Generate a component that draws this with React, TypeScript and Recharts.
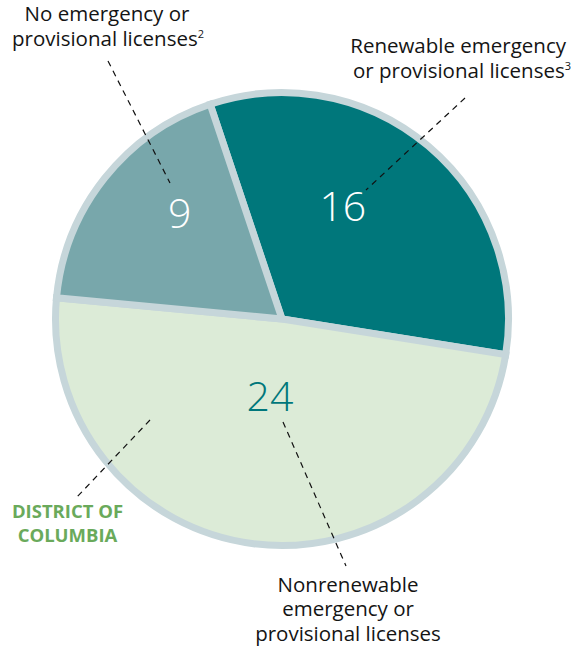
import React from "react";
import { PieChart, Pie, Cell } from "recharts";

const CATEGORIES = [
  "Renewable emergency or provisional licenses",
  "Nonrenewable emergency or provisional licenses",
  "No emergency or provisional licenses",
];
const VALUES = [16, 24, 9];

const COLORS = ["#00777b", "#dcebd7", "#78a7ab"];
const LABEL_COLORS = ["#ffffff", "#00777b", "#ffffff"];
// label placement (angle in degrees, radius) per slice
const LABEL_POS = [
  { angle: 58.8, r: 127 },
  { angle: -95, r: 81 },
  { angle: 133.6, r: 141 },
];

const RING = "#c6d6da";
const FONT = "'Open Sans', 'Noto Sans', Arial, sans-serif";
const CX = 277;
const CY = 314;
const RAD = Math.PI / 180;

const data = CATEGORIES.map((name, i) => ({ name, value: VALUES[i] }));

const renderLabel = (props: any) => {
  const { index, value } = props;
  const p = LABEL_POS[index];
  const x = CX + p.r * Math.cos(-p.angle * RAD);
  const y = CY + p.r * Math.sin(-p.angle * RAD);
  return (
    <text
      x={x}
      y={y}
      fill={LABEL_COLORS[index]}
      textAnchor="middle"
      dominantBaseline="central"
      fontSize={41}
      fontFamily={FONT}
      fontWeight={300}
    >
      {value}
    </text>
  );
};

const textStyle = { fontFamily: FONT, fontSize: 20.5, fill: "#141414" };

export default function App() {
  return (
    <div style={{ position: "absolute", left: 0, top: 0, width: 572, height: 653, background: "#fff" }}>
      <PieChart width={572} height={653}>
        <Pie
          data={data}
          dataKey="value"
          nameKey="name"
          cx={CX}
          cy={CY}
          outerRadius={226.5}
          startAngle={108.5}
          endAngle={-251.5}
          stroke={RING}
          strokeWidth={7}
          label={renderLabel}
          labelLine={false}
          isAnimationActive={false}
        >
          {data.map((d, i) => (
            <Cell key={d.name} fill={COLORS[i]} />
          ))}
        </Pie>
      </PieChart>
      <svg width={572} height={653} style={{ position: "absolute", left: 0, top: 0, pointerEvents: "none" }}>
        <g stroke="#111" strokeWidth={1.2} strokeDasharray="6 5" fill="none">
          <line x1={108} y1={61} x2={170} y2={183} />
          <line x1={465} y1={98} x2={366} y2={190} />
          <line x1={283} y1={422} x2={346} y2={566} />
          <line x1={150} y1={420} x2={77} y2={497} />
        </g>
        <text {...textStyle} textAnchor="middle">
          <tspan x={107} y={21}>No emergency or</tspan>
          <tspan x={108} y={46}>provisional licenses</tspan>
          <tspan fontSize={11} dy={-8}>2</tspan>
        </text>
        <text {...textStyle} textAnchor="end">
          <tspan x={566} y={53}>Renewable emergency</tspan>
          <tspan x={571} y={78}>or provisional licenses</tspan>
          <tspan fontSize={11} dy={-8}>3</tspan>
        </text>
        <text {...textStyle} textAnchor="middle">
          <tspan x={348} y={592}>Nonrenewable</tspan>
          <tspan x={348} y={616}>emergency or</tspan>
          <tspan x={348} y={641}>provisional licenses</tspan>
        </text>
        <text fontFamily={FONT} fontSize={18.5} fontWeight={700} fill="#6aaa5b" textAnchor="middle">
          <tspan x={67.5} y={518}>DISTRICT OF</tspan>
          <tspan x={67.5} y={542}>COLUMBIA</tspan>
        </text>
      </svg>
    </div>
  );
}
